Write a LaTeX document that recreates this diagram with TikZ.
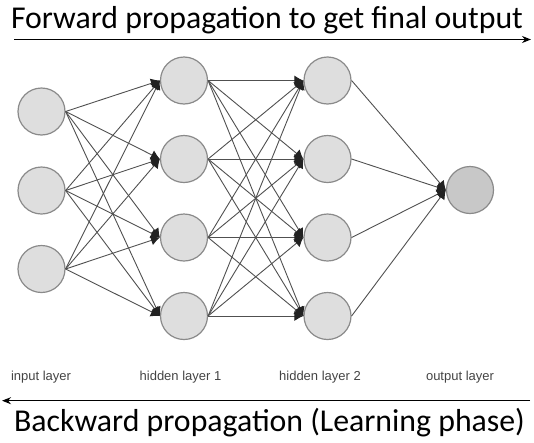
\documentclass[tikz,border=0pt]{standalone}
\usepackage{fontspec}
\setmainfont{Carlito}
\newfontfamily\labelfont{Liberation Sans}
\usetikzlibrary{arrows.meta}
\definecolor{nodefill}{HTML}{DEDEDE}
\definecolor{outfill}{HTML}{C8C8C8}
\definecolor{nodeborder}{HTML}{8A8A8A}
\definecolor{edgecol}{HTML}{505050}
\definecolor{tipcol}{HTML}{222222}
\definecolor{labelcol}{HTML}{444444}
\tikzset{
  neuron/.style={circle, draw=nodeborder, fill=nodefill, line width=1.2pt, minimum size=47pt, inner sep=0pt},
  outneuron/.style={neuron, fill=outfill},
  edge/.style={draw=edgecol, line width=0.9pt, -{Latex[length=9pt,width=10pt,color=tipcol]}},
  bigarrow/.style={draw=black, line width=1.4pt, -{Stealth[length=9pt,width=7pt]}},
  title/.style={font=\fontsize{31.8}{34}\selectfont, anchor=base, inner sep=0pt},
  layerlabel/.style={font=\labelfont\fontsize{13}{15}\selectfont, text=labelcol, anchor=base, inner sep=0pt}
}
\begin{document}
\begin{tikzpicture}[x=1pt,y=-1pt]
\useasboundingbox (0,0) rectangle (534,442);
% titles and big arrows
\node[title] (ftext) at (267,28) {Forward propagation to get final output};
\coordinate (fa) at (14,39.5);
\coordinate (fb) at (531,39.5);
\draw[bigarrow] (fa) -- (fb);
\coordinate (ba) at (530,400.7);
\coordinate (bb) at (2,400.7);
\draw[bigarrow] (ba) -- (bb);
\node[title] (btext) at (269.5,431) {Backward propagation (Learning phase)};
% neurons
\node[neuron] (i1) at (41.5,111.5) {};
\node[neuron] (i2) at (41.5,190.5) {};
\node[neuron] (i3) at (41.5,269) {};
\node[neuron] (h1) at (184,80.5) {};
\node[neuron] (h2) at (184,159) {};
\node[neuron] (h3) at (184,237.5) {};
\node[neuron] (h4) at (184,316) {};
\node[neuron] (g1) at (327.5,80.5) {};
\node[neuron] (g2) at (327.5,159) {};
\node[neuron] (g3) at (327.5,237.5) {};
\node[neuron] (g4) at (327.5,316) {};
\node[outneuron] (o) at (470,190) {};
% connections
\foreach \a in {1,2,3}{\foreach \b in {1,2,3,4}{\draw[edge] (i\a.east) -- (h\b.west);}}
\foreach \a in {1,2,3,4}{\foreach \b in {1,2,3,4}{\draw[edge] (h\a.east) -- (g\b.west);}}
\foreach \a in {1,2,3,4}{\draw[edge] (g\a.east) -- (o.west);}
% layer labels
\node[layerlabel] (l1) at (41,380.5) {input layer};
\node[layerlabel] (l2) at (180.5,380.5) {hidden layer 1};
\node[layerlabel] (l3) at (320,380.5) {hidden layer 2};
\node[layerlabel] (l4) at (460,380.5) {output layer};
\end{tikzpicture}
\end{document}
